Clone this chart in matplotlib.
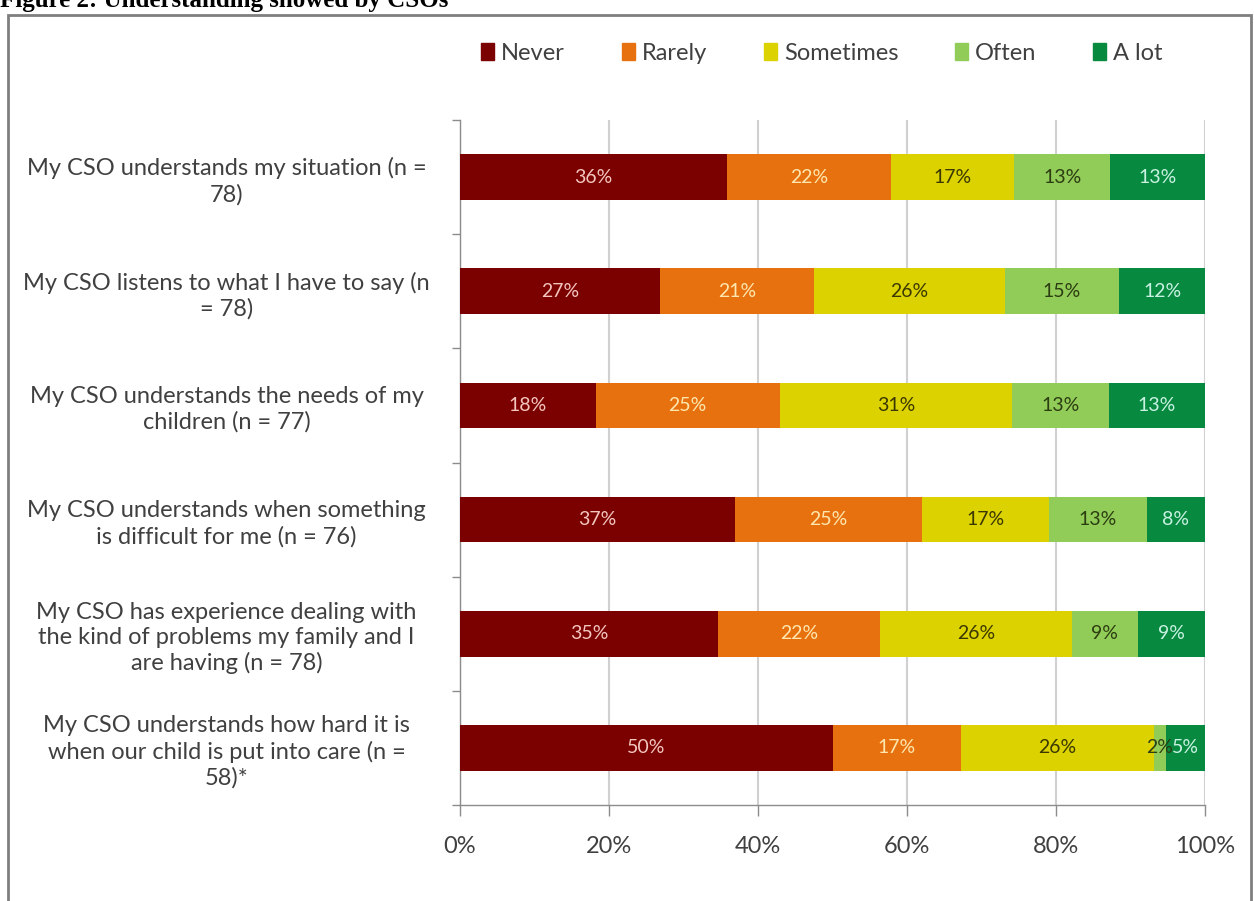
import matplotlib.pyplot as plt
import matplotlib.patches as mpatches
import numpy as np

# Survey items (top to bottom) and response shares in percent
lstr_items = [
    "My CSO understands my situation (n =\n78)",
    "My CSO listens to what I have to say (n\n= 78)",
    "My CSO understands the needs of my\nchildren (n = 77)",
    "My CSO understands when something\nis difficult for me (n = 76)",
    "My CSO has experience dealing with\nthe kind of problems my family and I\nare having (n = 78)",
    "My CSO understands how hard it is\nwhen our child is put into care (n =\n58)*",
]
lstr_responses = ["Never", "Rarely", "Sometimes", "Often", "A lot"]

lf_never = [35.9, 26.9, 18.2, 36.9, 34.6, 50.0]
lf_rarely = [21.9, 20.6, 24.7, 25.1, 21.8, 17.2]
lf_sometimes = [16.6, 25.6, 31.2, 17.1, 25.7, 25.9]
lf_often = [12.9, 15.4, 13.0, 13.1, 8.9, 1.7]
lf_a_lot = [12.7, 11.5, 12.9, 7.8, 9.0, 5.2]

lstr_xticks = ["0%", "20%", "40%", "60%", "80%", "100%"]

# Colours
lstr_colors = ["#7b0000", "#e8710f", "#dcd200", "#92cc58", "#07893f"]
lstr_text_colors = ["#f3c6c0", "#fde7ae", "#3a3800", "#2c3d12", "#c8f2e2"]
c_STR_AXIS_COLOR = "#8c8c8c"
c_STR_TEXT_COLOR = "#404040"

plt.rcParams["font.family"] = ["Lato", "DejaVu Sans"]

fig = plt.figure(figsize=(12.54, 9.01), dpi=100)

# Outer frame and the title running off the top edge
fig.patches.append(mpatches.Rectangle((8 / 1254, -0.05), 1243 / 1254, 1.05 - 15 / 901,
                                      transform=fig.transFigure, fill=False,
                                      edgecolor="#7f7f7f", linewidth=2))
fig.text(0.0, 1 - 7 / 901, "Figure 2: Understanding showed by CSOs", ha="left", va="baseline",
         fontsize=18, fontweight="bold", family="Liberation Serif", color="black")

ax = fig.add_axes([460 / 1254, 1 - 805 / 901, 745 / 1254, 685 / 901])

lf_values = [lf_never, lf_rarely, lf_sometimes, lf_often, lf_a_lot]
ai_y = np.arange(len(lstr_items))
af_left = np.zeros(len(lstr_items))
for i_resp, lf_vals in enumerate(lf_values):
    af_vals = np.array(lf_vals)
    ax.barh(ai_y, af_vals, left=af_left, height=0.4, color=lstr_colors[i_resp],
            label=lstr_responses[i_resp], zorder=3)
    for f_left, f_val, i_row in zip(af_left, af_vals, ai_y):
        ax.text(f_left + f_val / 2, i_row, "%d%%" % round(f_val), ha="center", va="center",
                fontsize=14, color=lstr_text_colors[i_resp], zorder=4)
    af_left += af_vals

ax.set_xlim(0, 100)
ax.set_ylim(len(lstr_items) - 0.5, -0.5)

# X axis: gridlines every 20%
ax.set_xticks(np.arange(0, 101, 20))
ax.set_xticklabels(lstr_xticks)
ax.xaxis.grid(True, color="#d0d0d0", linewidth=1.5, zorder=0)
ax.tick_params(axis="x", direction="out", length=8, width=1, color=c_STR_AXIS_COLOR,
               labelsize=17, labelcolor=c_STR_TEXT_COLOR, pad=14)

# Y axis: category labels with ticks on band boundaries
ax.set_yticks(ai_y)
ax.set_yticklabels(lstr_items, ha="center", multialignment="center", linespacing=1.25)
ax.set_yticks(np.arange(-0.5, len(lstr_items), 1), minor=True)
ax.tick_params(axis="y", which="major", length=0, labelsize=17, labelcolor=c_STR_TEXT_COLOR,
               pad=168)
ax.tick_params(axis="y", which="minor", direction="out", length=6, width=1, color=c_STR_AXIS_COLOR)

for str_side in ["top", "right"]:
    ax.spines[str_side].set_visible(False)
for str_side in ["left", "bottom"]:
    ax.spines[str_side].set_color(c_STR_AXIS_COLOR)
    ax.spines[str_side].set_linewidth(1)

# Legend across the top
lh_handles = [mpatches.Patch(color=c) for c in lstr_colors]
fig.legend(lh_handles, lstr_responses, loc="center", bbox_to_anchor=(822 / 1254, 1 - 53 / 901),
           ncol=5, frameon=False, fontsize=17, handlelength=0.55, handleheight=0.75,
           handletextpad=0.3, columnspacing=2.4, labelcolor=c_STR_TEXT_COLOR)

plt.savefig("out.png", dpi=100)
plt.close()
